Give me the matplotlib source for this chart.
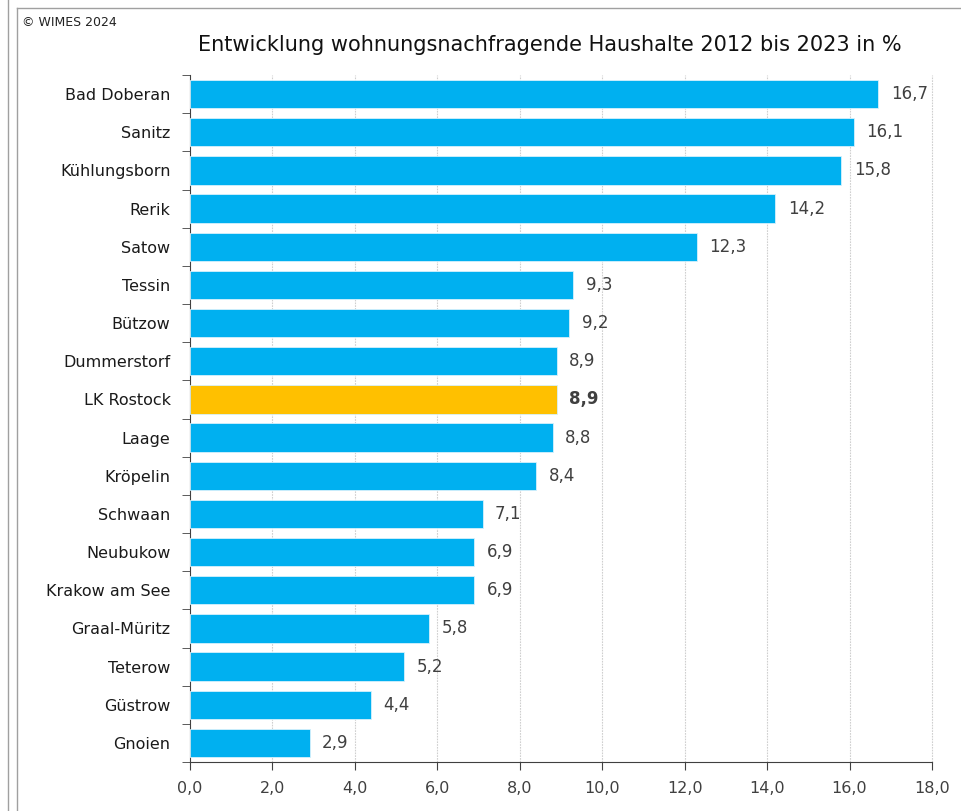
import matplotlib
matplotlib.use("Agg")
import matplotlib.pyplot as plt
from matplotlib.lines import Line2D
import numpy as np

# Data (top to bottom)
regions = [
    "Bad Doberan", "Sanitz", "Kühlungsborn", "Rerik", "Satow", "Tessin",
    "Bützow", "Dummerstorf", "LK Rostock", "Laage", "Kröpelin", "Schwaan",
    "Neubukow", "Krakow am See", "Graal-Müritz", "Teterow", "Güstrow", "Gnoien",
]
values = [16.7, 16.1, 15.8, 14.2, 12.3, 9.3, 9.2, 8.9, 8.9, 8.8, 8.4, 7.1,
          6.9, 6.9, 5.8, 5.2, 4.4, 2.9]
highlight = "LK Rostock"
x_ticks = [0, 2, 4, 6, 8, 10, 12, 14, 16, 18]

BLUE = "#00B0F0"
GOLD = "#FFC000"
TXT = "#404040"

plt.rcParams["font.family"] = ["DejaVu Sans"]

fig = plt.figure(figsize=(9.61, 8.11), dpi=100)
ax = fig.add_axes([190 / 961, 1 - 762 / 811, 742 / 961, 687 / 811])

y = np.arange(len(regions))
colors = [GOLD if r == highlight else BLUE for r in regions]
ax.barh(y, values, height=0.74, color=colors, edgecolor="#d6f1fc",
        linewidth=0.6, zorder=3)

for yi, v, r in zip(y, values, regions):
    ax.text(v + 0.3, yi, f"{v:.1f}".replace(".", ","), va="center", ha="left",
            fontsize=12, color=TXT,
            fontweight="bold" if r == highlight else "normal")

ax.set_ylim(len(regions) - 0.5, -0.5)
ax.set_xlim(0, 18)
ax.set_yticks(y)
ax.set_yticklabels(regions, fontsize=11.5, color="#1a1a1a")
ax.tick_params(axis="y", length=0, pad=14)
ax.set_yticks(np.arange(-0.5, len(regions)), minor=True)
ax.tick_params(axis="y", which="minor", length=6, color="#404040", direction="out")

ax.set_xticks(x_ticks)
ax.set_xticklabels([f"{t:.1f}".replace(".", ",") for t in x_ticks],
                   fontsize=11.5, color=TXT)
ax.tick_params(axis="x", length=6, color="#404040", pad=8)

# vertical grid (drawn manually so the 18,0 line shows too)
for t in x_ticks[1:]:
    ax.axvline(t, color="#cfcfcf", linewidth=0.8, linestyle=(0, (1.5, 1)),
               zorder=0, clip_on=False)
for s in ["top", "right"]:
    ax.spines[s].set_visible(False)
ax.spines["left"].set_color("#404040")
ax.spines["bottom"].set_color("#404040")

fig.text(550 / 961, 1 - 45 / 811,
         "Entwicklung wohnungsnachfragende Haushalte 2012 bis 2023 in %",
         ha="center", va="center", fontsize=15, color="#111111")
fig.text(22 / 961, 1 - 22 / 811, "© WIMES 2024", ha="left", va="center",
         fontsize=9, color="#222222")

# outer frame lines
fig.add_artist(Line2D([8 / 961, 8 / 961], [0, 1], color="#a0a0a0", lw=1))
fig.add_artist(Line2D([17 / 961, 17 / 961], [0, 1 - 8 / 811], color="#a0a0a0", lw=1))
fig.add_artist(Line2D([17 / 961, 1], [1 - 8 / 811, 1 - 8 / 811], color="#a0a0a0", lw=1))

fig.savefig("out.png", dpi=100)
